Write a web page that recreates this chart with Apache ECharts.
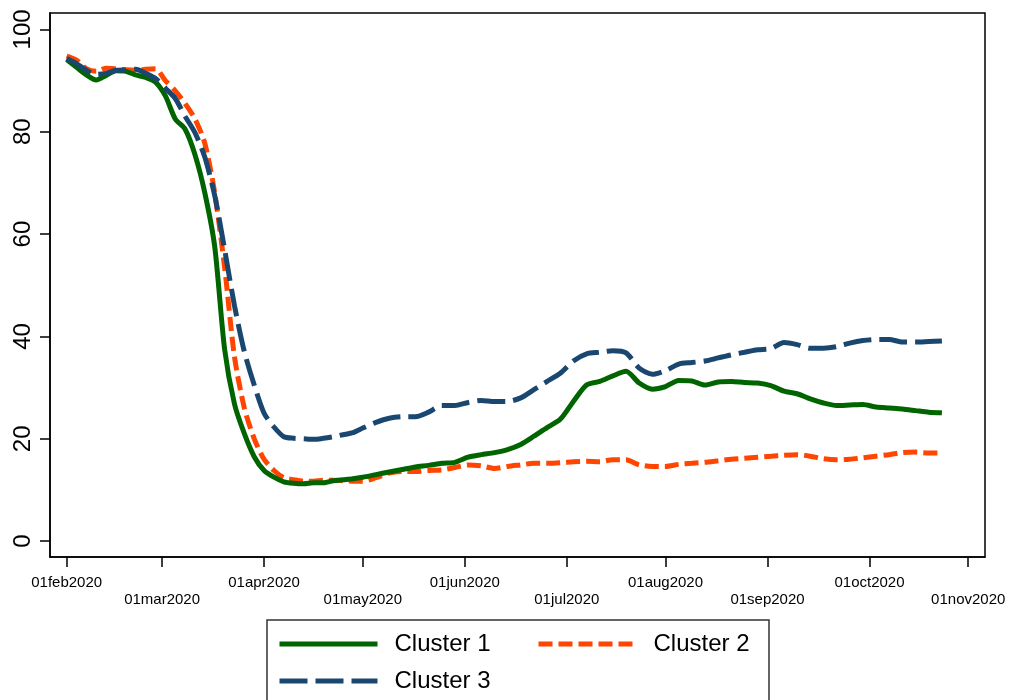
<!DOCTYPE html>
<html>
<head>
<meta charset="utf-8">
<script src="https://cdn.jsdelivr.net/npm/echarts@6/dist/echarts.min.js"></script>
<style>
html,body{margin:0;padding:0;background:#fff;}
#chart{width:1010px;height:700px;}
</style>
</head>
<body>
<div id="chart"></div>
<script>
// x values: days since 01feb2020
const days = [0,3,6,9,12,15,18,21,24,27,30,33,36,39,42,45,48,51,54,57,60,63,66,69,72,75,78,81,84,87,90,
  94,98,102,106,110,114,118,122,126,130,134,138,142,146,150,154,158,162,166,170,174,178,182,186,190,194,198,
  202,206,210,214,218,222,226,230,234,238,242,246,250,254,258,262,266];

const cluster1 = [94.1,92.6,91.1,90.1,91.0,91.9,91.8,91.1,90.6,89.7,87.0,82.5,80.5,75.5,68.0,57.5,37.5,26.8,21.0,16.5,13.8,12.5,11.6,11.3,11.2,11.4,11.4,11.8,12.0,12.2,12.5,
  13.0,13.5,14.0,14.5,14.8,15.2,15.4,16.4,16.9,17.3,17.9,18.9,20.5,22.2,23.8,27.3,30.5,31.2,32.3,33.2,30.9,29.7,30.2,31.4,31.3,30.5,31.1,
  31.2,31.0,30.9,30.4,29.3,28.8,27.8,27.0,26.5,26.6,26.7,26.2,26.0,25.8,25.5,25.2,25.1];

const cluster2 = [94.8,94.0,92.3,91.8,92.4,92.3,92.1,92.0,92.2,92.3,90.0,88.0,85.5,82.5,77.7,68.0,53.5,36.0,26.0,20.0,16.0,13.8,12.4,12.0,11.7,11.7,11.9,11.9,11.8,11.7,11.7,
  12.4,13.3,13.6,13.6,13.8,13.9,14.4,14.9,14.7,14.2,14.6,14.9,15.2,15.2,15.3,15.5,15.6,15.5,15.9,15.9,14.9,14.6,14.6,15.0,15.2,15.4,15.7,
  16.0,16.2,16.4,16.6,16.8,16.9,16.6,16.1,15.9,16.0,16.3,16.6,16.9,17.3,17.4,17.2,17.2];

const cluster3 = [94.3,93.3,92.0,91.2,91.4,92.0,92.1,92.2,91.4,90.4,88.5,86.5,83.0,79.8,75.0,67.5,57.0,46.0,37.0,30.5,25.0,22.3,20.4,20.1,20.0,19.9,20.1,20.4,20.8,21.2,22.1,
  23.2,24.0,24.3,24.3,25.2,26.5,26.5,27.1,27.5,27.3,27.3,28.0,29.6,31.2,32.8,35.2,36.6,36.9,37.2,36.8,33.8,32.6,33.3,34.6,34.9,35.2,35.8,
  36.4,36.9,37.4,37.6,38.8,38.4,37.7,37.7,38.0,38.7,39.2,39.4,39.4,38.9,38.9,39.0,39.1];

const xTickDays = [0,29,60,90,121,152,182,213,244,274];
const xTickLabels = ['01feb2020','01mar2020','01apr2020','01may2020','01jun2020','01jul2020','01aug2020','01sep2020','01oct2020','01nov2020'];
const yTicks = [0,20,40,60,80,100];
const seriesNames = ['Cluster 1','Cluster 2','Cluster 3'];

const FONT = '"Liberation Sans", Arial, sans-serif';
const NARROW = '"Liberation Sans Narrow", "Liberation Sans", Arial, sans-serif';
const chart = echarts.init(document.getElementById('chart'), null, {renderer:'canvas'});

const mk = (arr) => days.map((d,i)=>[d, arr[i]]);

const legendBase = {
  orient:'horizontal', padding:0, itemWidth:98, itemHeight:28,
  textStyle:{fontFamily:FONT, fontSize:24, color:'#000', padding:[0,0,0,12]},
  lineStyle:{width:5}, itemStyle:{opacity:0, borderWidth:0}, selectedMode:false
};

chart.setOption({
  animation:false,
  backgroundColor:'#fff',
  grid:{left:50, right:25, top:13, bottom:143, show:true, borderColor:'#000', borderWidth:1.5, backgroundColor:'transparent'},
  xAxis:{
    type:'value', min:-5.07, max:279.1,
    axisLine:{show:true, onZero:false, lineStyle:{color:'#000', width:1.5}},
    axisTick:{show:true, inside:false, length:10, lineStyle:{color:'#000', width:1.5}, customValues:xTickDays},
    axisLabel:{
      customValues:xTickDays, margin:18, fontFamily:FONT, fontSize:15, color:'#000', lineHeight:16.5,
      formatter:function(v){ const i = xTickDays.indexOf(v); if(i<0) return ''; return (i%2===1 ? '\n' : '') + xTickLabels[i]; }
    },
    splitLine:{show:false}
  },
  yAxis:{
    type:'value', min:-3.1, max:103.2,
    axisLine:{show:true, onZero:false, lineStyle:{color:'#000', width:1.5}},
    axisTick:{show:true, inside:false, length:10, lineStyle:{color:'#000', width:1.5}, customValues:yTicks},
    axisLabel:{customValues:yTicks, rotate:90, margin:15, fontFamily:NARROW, fontSize:24, color:'#000'},
    splitLine:{show:false}
  },
  legend:[
    Object.assign({}, legendBase, {data:[seriesNames[0]], left:277, top:632}),
    Object.assign({}, legendBase, {data:[seriesNames[1]], left:536, top:632}),
    Object.assign({}, legendBase, {data:[seriesNames[2]], left:277, top:669})
  ],
  graphic:[{type:'rect', z:-1, shape:{x:267, y:620, width:502, height:110}, style:{fill:'#fff', stroke:'#333', lineWidth:1.5}}],
  series:[
    {name:seriesNames[0], type:'line', data:mk(cluster1), symbol:'none', z:3, smooth:0.25,
      lineStyle:{color:'#006400', width:5, type:'solid'}, itemStyle:{color:'#006400'}},
    {name:seriesNames[1], type:'line', data:mk(cluster2), symbol:'none', z:2, smooth:0.25,
      lineStyle:{color:'#FF4500', width:5, type:[14,6]}, itemStyle:{color:'#FF4500'}},
    {name:seriesNames[2], type:'line', data:mk(cluster3), symbol:'none', z:4, smooth:0.25,
      lineStyle:{color:'#1A476F', width:5, type:[28,8]}, itemStyle:{color:'#1A476F'}}
  ]
});
</script>
</body>
</html>
